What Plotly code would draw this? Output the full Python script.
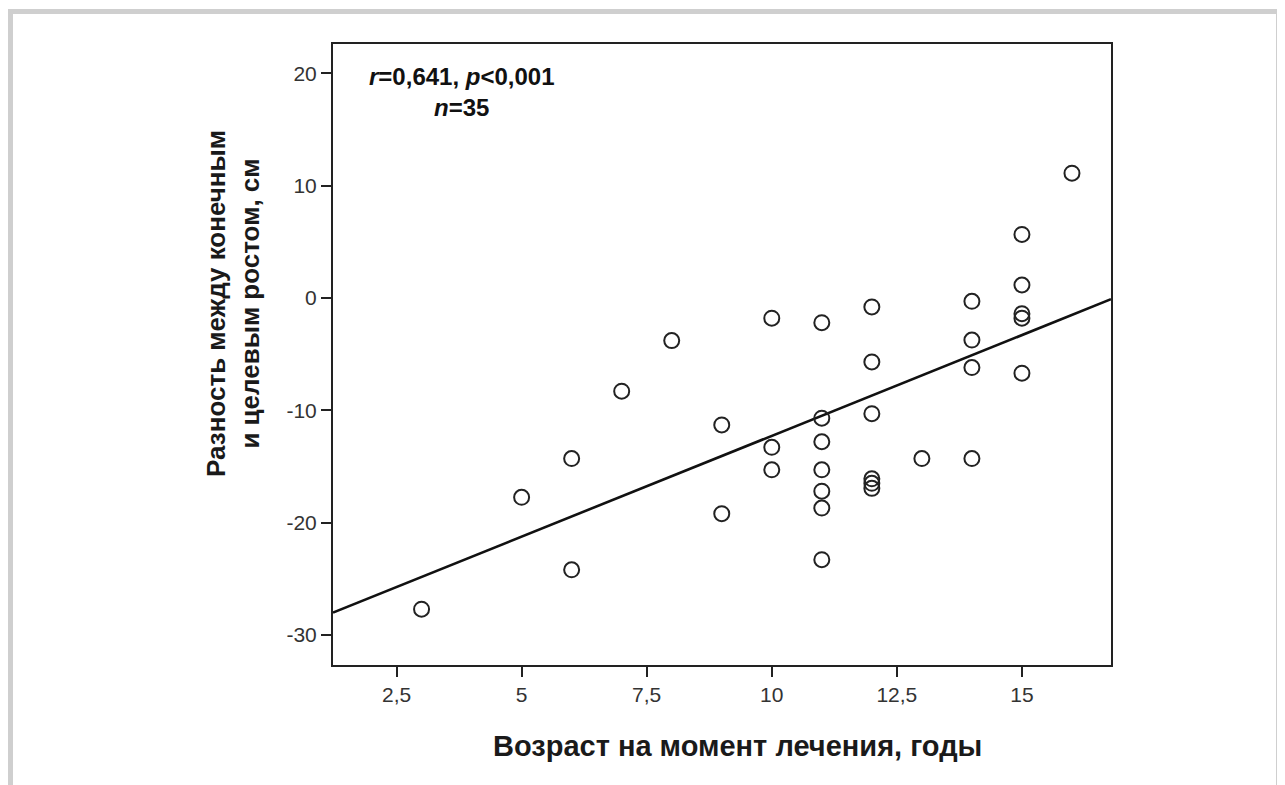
import numpy as np
import plotly.graph_objects as go

# Age at treatment (years)
age = [3, 5, 6, 6, 7, 8, 9, 9, 10, 10, 10,
       11, 11, 11, 11, 11, 11, 11,
       12, 12, 12, 12, 12, 12,
       13,
       14, 14, 14, 14,
       15, 15, 15, 15, 15,
       16]
# Difference between final and target height (cm)
diff = [-27.7, -17.75, -14.3, -24.2, -8.3, -3.8, -11.3, -19.2, -1.8, -13.3, -15.3,
        -2.2, -10.7, -12.8, -15.3, -17.2, -18.7, -23.3,
        -0.8, -5.7, -10.3, -16.1, -16.5, -16.95,
        -14.3,
        -0.3, -3.75, -6.2, -14.3,
        5.65, 1.15, -1.4, -1.8, -6.7,
        11.1]

x_ticks = [2.5, 5, 7.5, 10, 12.5, 15]
x_tick_labels = ["2,5", "5", "7,5", "10", "12,5", "15"]
y_ticks = [-30, -20, -10, 0, 10, 20]
y_tick_labels = ["-30", "-20", "-10", "0", "10", "20"]
x_range = [1.23, 16.78]
y_range = [-32.67, 22.6]

slope, intercept = np.polyfit(age, diff, 1)
line_x = np.array(x_range)
line_y = intercept + slope * line_x

OFF = 8  # default page body margin
W, H = 1285 - OFF, 785 - OFF
# plot area in page pixels
L, R, T, B = 333, 1111, 44, 665

def px(xp):
    return (xp - L) / (R - L)

def py(yp):
    return (B - yp) / (B - T)

fig = go.Figure()
fig.add_trace(go.Scatter(x=line_x, y=line_y, mode="lines",
                         line=dict(color="#111111", width=2.6),
                         hoverinfo="skip", showlegend=False))
fig.add_trace(go.Scatter(x=age, y=diff, mode="markers",
                         marker=dict(symbol="circle-open", size=15, color="#222222",
                                     line=dict(color="#222222", width=2)),
                         showlegend=False))

border = "#cfcfcf"
shapes = [
    dict(type="line", xref="paper", yref="paper", x0=px(10.5), x1=px(10.5), y0=py(9), y1=py(800),
         line=dict(color=border, width=5)),
    dict(type="line", xref="paper", yref="paper", x0=px(8), x1=px(1282), y0=py(11.5), y1=py(11.5),
         line=dict(color=border, width=5)),
    dict(type="line", xref="paper", yref="paper", x0=px(1278.5), x1=px(1278.5), y0=py(9), y1=py(800),
         line=dict(color=border, width=5)),
]

font_main = "Liberation Sans, Arial, sans-serif"

annotations = [
    dict(xref="paper", yref="paper", x=px(462), y=py(92), xanchor="center", yanchor="middle",
         showarrow=False, align="center",
         text="<b><i>r</i>=0,641, <i>p</i>&lt;0,001</b><br><b><i>n</i>=35</b>",
         font=dict(size=24, family=font_main, color="#111111")),
    dict(xref="paper", yref="paper", x=px(737), y=py(746), xanchor="center", yanchor="middle",
         showarrow=False, text="<b>Возраст на момент лечения, годы</b>",
         font=dict(size=29, family=font_main, color="#1a1a1a")),
    dict(xref="paper", yref="paper", x=px(233), y=py(304), xanchor="center", yanchor="middle",
         showarrow=False, textangle=-90, align="center",
         text="<b>Разность между конечным<br>и целевым ростом, см</b>",
         font=dict(size=26, family=font_main, color="#1a1a1a")),
]

fig.update_layout(
    width=W, height=H,
    margin=dict(l=L - OFF, r=W - (R - OFF), t=T - OFF, b=H - (B - OFF), pad=0),
    paper_bgcolor="white", plot_bgcolor="white",
    separators=", ",
    font=dict(family=font_main, color="#222222"),
    shapes=shapes,
    annotations=annotations,
    xaxis=dict(range=x_range, tickvals=x_ticks, ticktext=x_tick_labels,
               showgrid=False, zeroline=False,
               showline=True, mirror=True, linecolor="#222222", linewidth=2,
               ticks="outside", ticklen=10, tickwidth=2, tickcolor="#222222",
               tickfont=dict(size=21, color="#333333")),
    yaxis=dict(range=y_range, tickvals=y_ticks, ticktext=y_tick_labels,
               showgrid=False, zeroline=False,
               showline=True, mirror=True, linecolor="#222222", linewidth=2,
               ticks="outside", ticklen=10, tickwidth=2, tickcolor="#222222",
               tickfont=dict(size=21, color="#333333")),
)

fig.write_html("out.html")
